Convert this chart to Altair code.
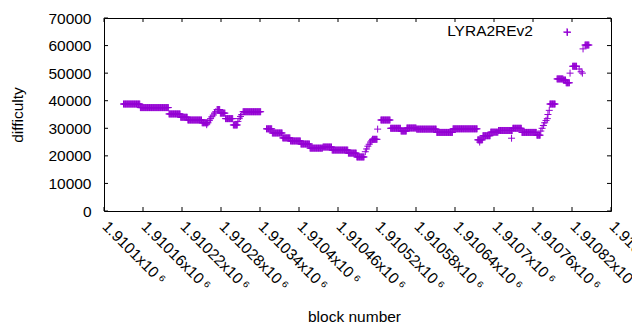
import altair as alt
import pandas as pd

BASE = 1910100

# plateau runs (block offsets from BASE, difficulty)
run_start = [30, 56, 100, 118, 129, 151, 174, 179, 187, 199, 214, 250, 259, 275, 287, 303, 317, 337, 351, 376, 389,
             413, 426, 441, 457, 466, 481, 512, 537, 575, 583, 595, 607, 629, 643, 666, 686, 697, 707, 711, 721, 740]
run_end = [55, 99, 117, 128, 150, 160, 178, 186, 198, 205, 241, 258, 274, 286, 302, 316, 336, 350, 375, 388, 400,
           420, 440, 456, 465, 480, 511, 536, 574, 582, 594, 606, 628, 642, 665, 671, 694, 706, 710, 716, 727, 746]
run_value = [38800, 37500, 35200, 34000, 33000, 32000, 36800, 35500, 33500, 31200, 36000, 29800, 28300, 26500, 25400,
             24300, 22800, 23200, 22100, 21000, 19600, 26000, 33000, 30000, 29000, 30100, 29700, 28500, 29800, 25800,
             27300, 28600, 29200, 30000, 28500, 27500, 38800, 47900, 47500, 46500, 52500, 60200]

# isolated points
single_block = [158, 162, 164, 166, 168, 170, 172, 206, 208, 210, 212, 402, 404, 406, 408, 410, 412, 421, 578, 627,
                672, 674, 676, 678, 680, 682, 683, 685, 713, 717, 731, 734, 736, 737]
single_value = [31300, 32800, 33500, 34200, 34800, 35500, 36000, 32500, 33500, 34300, 35000, 21500, 22500, 23500,
                24200, 25000, 25500, 29700, 25000, 26400, 29000, 30000, 31000, 32000, 32800, 33500, 35000, 36500,
                64800, 50000, 51500, 50500, 50000, 58800]

x_ticks = [1910100, 1910160, 1910220, 1910280, 1910340, 1910400, 1910460, 1910520, 1910580, 1910640, 1910700,
           1910760, 1910820, 1910880]
x_tick_labels = ["1.9101x10\u2009⁶", "1.91016x10\u2009⁶", "1.91022x10\u2009⁶", "1.91028x10\u2009⁶",
                 "1.91034x10\u2009⁶", "1.9104x10\u2009⁶", "1.91046x10\u2009⁶", "1.91052x10\u2009⁶",
                 "1.91058x10\u2009⁶", "1.91064x10\u2009⁶", "1.9107x10\u2009⁶", "1.91076x10\u2009⁶",
                 "1.91082x10\u2009⁶", "1.91088x10\u2009⁶"]
y_ticks = [0, 10000, 20000, 30000, 40000, 50000, 60000, 70000]

rows = []
for s, e, v in zip(run_start, run_end, run_value):
    for b in range(s, e + 1):
        rows.append({"block": BASE + b, "difficulty": v})
for b, v in zip(single_block, single_value):
    rows.append({"block": BASE + b, "difficulty": v})
df = pd.DataFrame(rows)

W, H = 507, 193
FONT = "Liberation Sans"
FS = 15.5
PURPLE = "#9400D3"
PLUS = "M-1,0H1M0,-1V1"

label_expr = "[" + ",".join("'%s'" % s for s in x_tick_labels) + "][indexof([" + \
    ",".join(str(v) for v in x_ticks) + "], datum.value)]"

xscale = alt.Scale(domain=[x_ticks[0], x_ticks[-1]], nice=False, zero=False)
yscale = alt.Scale(domain=[0, 70000], nice=False, zero=False)

xaxis = alt.Axis(
    values=x_ticks, labelExpr=label_expr, labelAngle=45, labelAlign="left", labelBaseline="alphabetic",
    labelPadding=16, labelOffset=-3, ticks=False, domain=False, grid=False, labelFont=FONT, labelFontSize=FS,
    labelColor="#000", labelOverlap=False, labelBound=False, labelFlush=False,
    title="block number", titleFont=FONT, titleFontSize=FS, titleFontWeight="normal", titleColor="#000",
    titleX=250, titleY=105, titleAlign="center", titleBaseline="middle")
yaxis = alt.Axis(
    values=y_ticks, format="d", labelPadding=13, ticks=False, domain=False, grid=False,
    labelFont=FONT, labelFontSize=FS, labelColor="#000", labelOverlap=False, labelBound=False,
    labelFlush=False, labelBaseline="middle",
    title="difficulty", titleFont=FONT, titleFontSize=FS, titleFontWeight="normal", titleColor="#000",
    titleX=-87, titleY=96.5, titleAngle=270, titleAlign="center", titleBaseline="middle")

points = alt.Chart(df).mark_point(shape=PLUS, filled=False, stroke=PURPLE, strokeWidth=1, size=49, opacity=1).encode(
    x=alt.X("block:Q", scale=xscale, axis=xaxis),
    y=alt.Y("difficulty:Q", scale=yscale, axis=yaxis),
)

xt = pd.DataFrame({"block": x_ticks})
yt = pd.DataFrame({"difficulty": y_ticks})
tick_style = dict(color="black", strokeWidth=1)
bottom_ticks = alt.Chart(xt).mark_rule(**tick_style).encode(
    x=alt.X("block:Q", scale=xscale, axis=xaxis), y=alt.value(H), y2=alt.value(H - 4))
top_ticks = alt.Chart(xt).mark_rule(**tick_style).encode(
    x=alt.X("block:Q", scale=xscale, axis=xaxis), y=alt.value(0), y2=alt.value(4))
left_ticks = alt.Chart(yt).mark_rule(**tick_style).encode(
    y=alt.Y("difficulty:Q", scale=yscale, axis=yaxis), x=alt.value(0), x2=alt.value(4))
right_ticks = alt.Chart(yt).mark_rule(**tick_style).encode(
    y=alt.Y("difficulty:Q", scale=yscale, axis=yaxis), x=alt.value(W), x2=alt.value(W - 4))

legend_df = pd.DataFrame({"label": ["LYRA2REv2"]})
legend_text = alt.Chart(legend_df).mark_text(align="right", baseline="middle", font=FONT, fontSize=FS,
                                             color="#000").encode(
    text="label:N", x=alt.value(429), y=alt.value(13))
legend_sym = alt.Chart(legend_df).mark_point(shape=PLUS, filled=False, stroke=PURPLE, strokeWidth=1, size=56,
                                             opacity=1).encode(
    x=alt.value(463), y=alt.value(14))

chart = alt.layer(points, bottom_ticks, top_ticks, left_ticks, right_ticks, legend_text, legend_sym).properties(
    width=W, height=H, autosize="none",
    padding={"left": 96, "top": 10, "right": 21, "bottom": 112},
    background="white",
).configure_view(stroke="black", strokeWidth=1)

chart.save("out.html", embed_options={"renderer": "svg", "actions": False})
